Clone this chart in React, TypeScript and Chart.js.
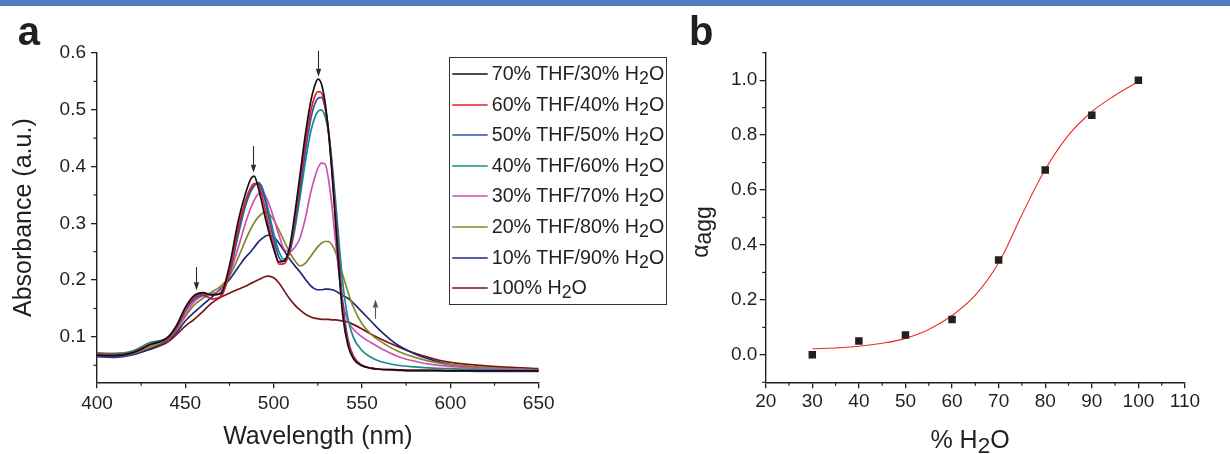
import React, { useEffect, useRef } from 'react';
import { Chart, registerables } from 'chart.js';

Chart.register(...registerables);

const FONT = '"Liberation Sans", Arial, Helvetica, sans-serif';
const TEXT = '#231f20';

// ---------- Panel a: absorption spectra ----------
const wavelengths = [400, 410, 420, 430, 440, 445, 450, 455, 460, 465, 470, 475, 480, 484, 487, 489, 491, 493, 495, 497, 500, 503, 506, 509, 512, 515, 518, 521, 523, 525, 527, 529, 531, 533, 535, 537, 539, 542, 545, 550, 555, 560, 570, 580, 590, 600, 620, 650];

const seriesLabels = ['70% THF/30% H2O', '60% THF/40% H2O', '50% THF/50% H2O', '40% THF/60% H2O', '30% THF/70% H2O', '20% THF/80% H2O', '10% THF/90% H2O', '100% H2O'];
const seriesColors = ['#111111', '#ee1c25', '#2e4fb0', '#168c8a', '#d04fb4', '#87872a', '#1f2a7d', '#7b1416'];

const abs70 = [0.068, 0.067, 0.072, 0.086, 0.099, 0.120, 0.152, 0.173, 0.178, 0.174, 0.176, 0.226, 0.305, 0.352, 0.378, 0.383, 0.366, 0.341, 0.313, 0.288, 0.255, 0.232, 0.234, 0.258, 0.318, 0.388, 0.458, 0.515, 0.540, 0.554, 0.546, 0.515, 0.462, 0.388, 0.302, 0.215, 0.140, 0.085, 0.062, 0.049, 0.045, 0.043, 0.042, 0.041, 0.041, 0.040, 0.040, 0.040];
const abs60 = [0.070, 0.069, 0.073, 0.087, 0.098, 0.117, 0.149, 0.170, 0.176, 0.167, 0.170, 0.215, 0.292, 0.340, 0.363, 0.370, 0.369, 0.354, 0.327, 0.298, 0.260, 0.228, 0.229, 0.252, 0.308, 0.375, 0.443, 0.498, 0.521, 0.532, 0.530, 0.507, 0.462, 0.395, 0.312, 0.228, 0.152, 0.092, 0.065, 0.050, 0.045, 0.043, 0.042, 0.041, 0.041, 0.041, 0.040, 0.040];
const abs50 = [0.066, 0.065, 0.071, 0.086, 0.098, 0.115, 0.146, 0.166, 0.173, 0.167, 0.172, 0.212, 0.285, 0.334, 0.358, 0.367, 0.371, 0.363, 0.342, 0.313, 0.272, 0.240, 0.233, 0.250, 0.300, 0.362, 0.428, 0.484, 0.508, 0.520, 0.522, 0.505, 0.466, 0.402, 0.322, 0.238, 0.162, 0.097, 0.067, 0.050, 0.045, 0.043, 0.041, 0.040, 0.040, 0.040, 0.039, 0.039];
const abs40 = [0.072, 0.071, 0.075, 0.090, 0.099, 0.118, 0.148, 0.168, 0.176, 0.174, 0.178, 0.212, 0.280, 0.330, 0.356, 0.366, 0.372, 0.367, 0.349, 0.323, 0.283, 0.250, 0.237, 0.248, 0.290, 0.348, 0.410, 0.462, 0.484, 0.497, 0.500, 0.489, 0.460, 0.408, 0.340, 0.266, 0.198, 0.133, 0.100, 0.076, 0.064, 0.057, 0.050, 0.047, 0.045, 0.044, 0.042, 0.041];
const abs30 = [0.069, 0.068, 0.073, 0.088, 0.097, 0.114, 0.140, 0.162, 0.173, 0.176, 0.183, 0.210, 0.258, 0.300, 0.327, 0.341, 0.351, 0.355, 0.350, 0.337, 0.310, 0.279, 0.254, 0.250, 0.258, 0.275, 0.310, 0.355, 0.378, 0.397, 0.406, 0.405, 0.378, 0.330, 0.268, 0.210, 0.162, 0.128, 0.114, 0.100, 0.090, 0.081, 0.066, 0.057, 0.051, 0.048, 0.044, 0.042];
const abs20 = [0.067, 0.066, 0.070, 0.082, 0.096, 0.112, 0.136, 0.156, 0.168, 0.179, 0.189, 0.207, 0.240, 0.270, 0.290, 0.301, 0.310, 0.316, 0.320, 0.318, 0.306, 0.288, 0.268, 0.249, 0.234, 0.225, 0.230, 0.242, 0.251, 0.259, 0.265, 0.268, 0.268, 0.262, 0.249, 0.230, 0.210, 0.180, 0.153, 0.123, 0.105, 0.093, 0.075, 0.064, 0.056, 0.051, 0.046, 0.042];
const abs10 = [0.065, 0.064, 0.068, 0.079, 0.095, 0.108, 0.128, 0.143, 0.157, 0.170, 0.185, 0.201, 0.223, 0.240, 0.250, 0.258, 0.266, 0.272, 0.277, 0.279, 0.276, 0.265, 0.251, 0.237, 0.225, 0.214, 0.201, 0.190, 0.185, 0.183, 0.183, 0.184, 0.184, 0.183, 0.181, 0.177, 0.173, 0.168, 0.160, 0.144, 0.128, 0.112, 0.086, 0.070, 0.059, 0.051, 0.046, 0.042];
const abs0 = [0.067, 0.067, 0.070, 0.078, 0.091, 0.104, 0.119, 0.131, 0.145, 0.160, 0.170, 0.177, 0.184, 0.189, 0.194, 0.197, 0.200, 0.203, 0.206, 0.207, 0.204, 0.195, 0.181, 0.167, 0.156, 0.147, 0.140, 0.135, 0.133, 0.132, 0.131, 0.131, 0.131, 0.130, 0.130, 0.129, 0.128, 0.126, 0.122, 0.114, 0.105, 0.097, 0.083, 0.071, 0.062, 0.055, 0.049, 0.044];
const seriesValues = [abs70, abs60, abs50, abs40, abs30, abs20, abs10, abs0];

const aXTicks = [400, 450, 500, 550, 600, 650];
const aXMinor = [425, 475, 525, 575, 625];
const aYTicks = [0.1, 0.2, 0.3, 0.4, 0.5, 0.6];
const aYMinor = [0.05, 0.15, 0.25, 0.35, 0.45, 0.55];

// arrows (wavelength, from absorbance, to absorbance)
const arrowWl = [525.3, 488.3, 456, 557.6];
const arrowFrom = [0.604, 0.436, 0.223, 0.132];
const arrowTo = [0.558, 0.389, 0.182, 0.166];

// ---------- Panel b: aggregation degree ----------
const waterPct = [30, 40, 50, 60, 70, 80, 90, 100];
const alphaAgg = [0.0, 0.05, 0.072, 0.129, 0.345, 0.673, 0.872, 1.0];
const fitWater = [30, 35, 40, 45, 50, 55, 60, 65, 70, 75, 80, 85, 90, 95, 100];
const fitAlpha = [0.022, 0.025, 0.031, 0.042, 0.060, 0.092, 0.143, 0.217, 0.335, 0.51, 0.675, 0.80, 0.885, 0.945, 0.995];

const bXTicks = [20, 30, 40, 50, 60, 70, 80, 90, 100, 110];
const bXMinor = [25, 35, 45, 55, 65, 75, 85, 95, 105];
const bYTicks = [0, 0.2, 0.4, 0.6, 0.8, 1.0];
const bYMinor = [-0.1, 0.1, 0.3, 0.5, 0.7, 0.9, 1.1];

const minorTicksPlugin = {
  id: 'minorTicks',
  afterDraw(chart: any, _a: any, opts: any) {
    const { ctx, chartArea, scales } = chart;
    const xs = scales.x;
    const ys = scales.y;
    ctx.save();
    ctx.strokeStyle = opts.color;
    ctx.lineWidth = opts.width;
    (opts.x || []).forEach((v: number) => {
      const px = xs.getPixelForValue(v);
      ctx.beginPath();
      ctx.moveTo(px, chartArea.bottom);
      ctx.lineTo(px, chartArea.bottom + opts.len);
      ctx.stroke();
    });
    (opts.y || []).forEach((v: number) => {
      const py = ys.getPixelForValue(v);
      ctx.beginPath();
      ctx.moveTo(chartArea.left, py);
      ctx.lineTo(chartArea.left - opts.len, py);
      ctx.stroke();
    });
    ctx.restore();
  },
};

const arrowPlugin = {
  id: 'arrows',
  afterDatasetsDraw(chart: any, _a: any, opts: any) {
    const { ctx, scales } = chart;
    const xs = scales.x;
    const ys = scales.y;
    ctx.save();
    (opts.wl || []).forEach((w: number, i: number) => {
      const px = Math.round(xs.getPixelForValue(w)) + 0.5;
      const y0 = ys.getPixelForValue(opts.from[i]);
      const y1 = ys.getPixelForValue(opts.to[i]);
      const dir = Math.sign(y1 - y0);
      const head = 8;
      const hw = 2.7;
      ctx.strokeStyle = opts.colors[i];
      ctx.fillStyle = opts.colors[i];
      ctx.lineWidth = 1.1;
      ctx.beginPath();
      ctx.moveTo(px, y0);
      ctx.lineTo(px, y1 - dir * head);
      ctx.stroke();
      ctx.beginPath();
      ctx.moveTo(px, y1);
      ctx.lineTo(px - hw, y1 - dir * head);
      ctx.lineTo(px + hw, y1 - dir * head);
      ctx.closePath();
      ctx.fill();
    });
    ctx.restore();
  },
};

const setTicks = (vals: number[]) => (scale: any) => {
  scale.ticks = vals.map((v) => ({ value: v }));
};

const axisCommon = {
  type: 'linear' as const,
  bounds: 'data' as const,
  grid: { drawOnChartArea: false, drawTicks: true, tickLength: 6, color: TEXT, lineWidth: 1.3 },
  border: { display: true, color: TEXT, width: 1.4 },
};

function Chem({ text }: { text: string }) {
  const idx = text.indexOf('H2O');
  if (idx < 0) return <>{text}</>;
  return (
    <>
      {text.slice(0, idx)}H
      <span style={{ fontSize: '0.9em', verticalAlign: '-0.22em', lineHeight: 0 }}>2</span>
      O{text.slice(idx + 3)}
    </>
  );
}

export default function App() {
  const refA = useRef<HTMLCanvasElement>(null);
  const refB = useRef<HTMLCanvasElement>(null);

  useEffect(() => {
    Chart.defaults.font.family = FONT;
    Chart.defaults.color = TEXT;

    const chartA = new Chart(refA.current as HTMLCanvasElement, {
      type: 'line',
      data: {
        datasets: seriesValues.map((vals, i) => ({
          label: seriesLabels[i],
          data: wavelengths.map((w, j) => ({ x: w, y: vals[j] })),
          borderColor: seriesColors[i],
          backgroundColor: seriesColors[i],
          borderWidth: 1.7,
          pointRadius: 0,
          cubicInterpolationMode: 'monotone' as const,
          fill: false,
        })),
      },
      options: {
        animation: false,
        responsive: false,
        events: [],
        layout: { padding: { top: 53, right: 141.3, left: 0, bottom: 0 } },
        plugins: {
          legend: { display: false },
          tooltip: { enabled: false },
          minorTicks: { x: aXMinor, y: aYMinor, len: 3.5, color: TEXT, width: 1.2 },
          arrows: { wl: arrowWl, from: arrowFrom, to: arrowTo, colors: ['#2b2b2b', '#2b2b2b', '#2b2b2b', '#555555'] },
        } as any,
        scales: {
          x: {
            ...axisCommon,
            min: 400,
            max: 650,
            afterBuildTicks: setTicks(aXTicks),
            afterFit: (s: any) => { s.height = 71.7; },
            ticks: { font: { size: 19 }, color: TEXT, padding: 4.3, maxRotation: 0, autoSkip: false, callback: (v: any) => String(v) },
            title: { display: true, text: 'Wavelength (nm)', font: { size: 25 }, color: TEXT, padding: { top: 0, bottom: 1.7 } },
          },
          y: {
            ...axisCommon,
            min: 0.02,
            max: 0.6,
            afterBuildTicks: setTicks(aYTicks),
            afterFit: (s: any) => { s.width = 97; },
            ticks: { font: { size: 19 }, color: TEXT, padding: 5, autoSkip: false, callback: (v: any) => Number(v).toFixed(1) },
            title: { display: true, text: 'Absorbance (a.u.)', font: { size: 25 }, color: TEXT, padding: { top: 9, bottom: 0 } },
          },
        },
      } as any,
      plugins: [minorTicksPlugin, arrowPlugin],
    });

    const chartB = new Chart(refB.current as HTMLCanvasElement, {
      type: 'line',
      data: {
        datasets: [
          {
            label: 'αagg',
            data: waterPct.map((x, i) => ({ x, y: alphaAgg[i] })),
            showLine: false,
            pointStyle: 'rect',
            pointRadius: 5.3,
            pointBorderWidth: 0,
            borderWidth: 0,
            backgroundColor: TEXT,
            borderColor: TEXT,
          },
          {
            label: 'fit',
            data: fitWater.map((x, i) => ({ x, y: fitAlpha[i] })),
            borderColor: '#ee2a24',
            borderWidth: 1.1,
            pointRadius: 0,
            tension: 0.4,
            fill: false,
          },
        ],
      },
      options: {
        animation: false,
        responsive: false,
        events: [],
        layout: { padding: { top: 52.7, right: 45, left: 0, bottom: 0 } },
        plugins: {
          legend: { display: false },
          tooltip: { enabled: false },
          minorTicks: { x: bXMinor, y: bYMinor, len: 3.5, color: TEXT, width: 1.2 },
        } as any,
        scales: {
          x: {
            ...axisCommon,
            min: 20,
            max: 110,
            afterBuildTicks: setTicks(bXTicks),
            afterFit: (s: any) => { s.height = 71.7; },
            ticks: { font: { size: 19 }, color: TEXT, padding: 2.3, maxRotation: 0, autoSkip: false, callback: (v: any) => String(v) },
            title: { display: false },
          },
          y: {
            ...axisCommon,
            min: -0.1,
            max: 1.1,
            afterBuildTicks: setTicks(bYTicks),
            afterFit: (s: any) => { s.width = 85.7; },
            ticks: { font: { size: 19 }, color: TEXT, padding: 2.4, autoSkip: false, callback: (v: any) => Number(v).toFixed(1) },
            title: { display: false },
          },
        },
      } as any,
      plugins: [minorTicksPlugin],
    });

    return () => {
      chartA.destroy();
      chartB.destroy();
    };
  }, []);

  const rowY = (i: number) => Math.round(74 + i * 30.6);

  return (
    <div style={{ position: 'absolute', left: 0, top: 0, width: 1230, height: 454, background: '#fff', overflow: 'hidden', fontFamily: FONT, color: TEXT }}>
      <div style={{ position: 'absolute', left: 0, top: 0, width: 680, height: 454 }}>
        <canvas ref={refA} width={680} height={454} style={{ width: 680, height: 454, display: 'block' }} />
      </div>
      <div style={{ position: 'absolute', left: 680, top: 0, width: 550, height: 454 }}>
        <canvas ref={refB} width={550} height={454} style={{ width: 550, height: 454, display: 'block' }} />
      </div>

      <div style={{ position: 'absolute', left: 0, top: 0, width: 1230, height: 6, background: '#4e80c0' }} />

      <div style={{ position: 'absolute', left: 17.8, top: 11.1, fontSize: 40, lineHeight: '40px', fontWeight: 'bold' }}>a</div>
      <div style={{ position: 'absolute', left: 689, top: 11.1, fontSize: 40, lineHeight: '40px', fontWeight: 'bold' }}>b</div>

      {/* legend of panel a */}
      <div style={{ position: 'absolute', left: 448.7, top: 56.7, width: 218, height: 248.3, border: '1px solid #333', boxSizing: 'border-box' }} />
      <svg style={{ position: 'absolute', left: 448, top: 56, width: 45, height: 250 }} width={45} height={250}>
        {seriesLabels.map((lab, i) => (
          <line key={lab} x1={4.3} x2={39.7} y1={rowY(i) - 56} y2={rowY(i) - 56} stroke={seriesColors[i]} strokeWidth={1.4} />
        ))}
      </svg>
      {seriesLabels.map((lab, i) => (
        <div key={lab} style={{ position: 'absolute', left: 491.7, top: rowY(i) - 15.8, fontSize: 19.7, lineHeight: '30px', whiteSpace: 'nowrap' }}>
          <Chem text={lab} />
        </div>
      ))}

      {/* axis titles of panel b */}
      <div style={{ position: 'absolute', left: 870, top: 426.8, width: 200, textAlign: 'center', fontSize: 25, lineHeight: '25px', whiteSpace: 'nowrap' }}>
        <Chem text="% H2O" />
      </div>
      <div style={{ position: 'absolute', left: 700, top: 231.5, transform: 'translate(-50%, -50%) rotate(-90deg)', fontSize: 23, lineHeight: '23px', whiteSpace: 'nowrap' }}>
        α<span style={{ position: 'relative', top: 2.5 }}>agg</span>
      </div>
    </div>
  );
}
